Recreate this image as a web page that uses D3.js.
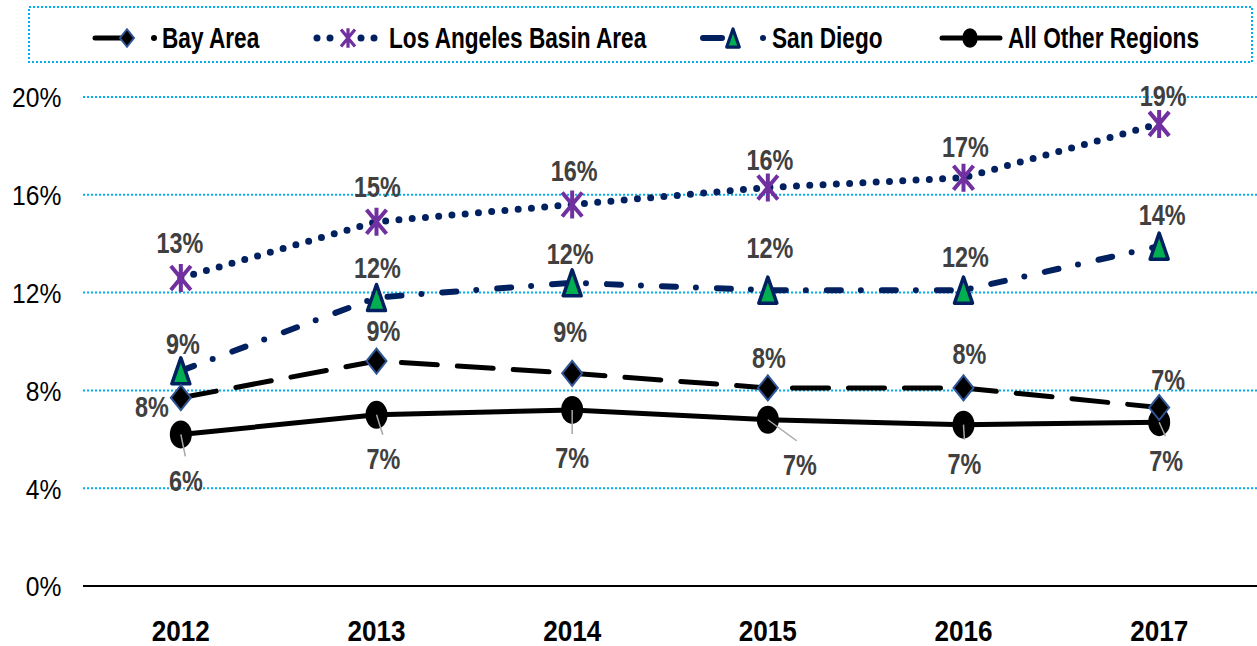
<!DOCTYPE html>
<html>
<head>
<meta charset="utf-8">
<script src="https://cdn.jsdelivr.net/npm/d3@7"></script>
<style>
  body { margin: 0; background: #fff; }
  svg { display: block; }
  text { font-family: "Liberation Sans", Arial, sans-serif; }
</style>
</head>
<body>
<svg id="chart" width="1257" height="646"></svg>
<script>
// données (en %)
const years = ['2012', '2013', '2014', '2015', '2016', '2017']
const bayArea = [7.7, 9.2, 8.7, 8.1, 8.1, 7.3]
const laBasin = [12.6, 14.9, 15.6, 16.3, 16.7, 18.9]
const sanDiego = [8.8, 11.8, 12.4, 12.1, 12.1, 13.9]
const otherRegions = [6.2, 7.0, 7.2, 6.8, 6.6, 6.7]
const yTicks = [0, 4, 8, 12, 16, 20]

// décalage des étiquettes par rapport au marqueur
const labelOffsets = {
  bay: [[-29, 9], [7, -31], [-2, -42], [1, -30], [6, -34], [9, -28]],
  la: [[-1, -35], [1, -35], [2, -34], [2, -28], [2, -31], [4, -28]],
  sd: [[2, -27], [1, -30], [-2, -29], [2, -43], [2, -34], [3, -32]],
  other: [[5, 46], [7, 44], [0, 48], [32, 45], [1, 39], [7, 38]]
}

const series = [
  { key: 'bay', name: 'Bay Area', values: bayArea, color: '#000', width: 5, dash: '36 20', marker: 'diamond' },
  { key: 'la', name: 'Los Angeles Basin Area', values: laBasin, color: '#002060', width: 7, dash: '0 13.3', marker: 'star' },
  { key: 'sd', name: 'San Diego', values: sanDiego, color: '#002060', width: 6, dash: '14 20 0 21', marker: 'triangle' },
  { key: 'other', name: 'All Other Regions', values: otherRegions, color: '#000', width: 5, dash: null, marker: 'circle' }
]

const svg = d3.select('#chart')
const margin = { left: 83, right: 0 }
const width = 1257

const x = d3.scaleBand().domain(years).range([margin.left, width - margin.right])
const y = d3.scaleLinear().domain([0, 20]).range([586, 97])
const cx = d => x(d) + x.bandwidth() / 2

//Texte étroit (imite Arial Narrow)
function narrowText (parent, px, py, str, size, sx, opts) {
  const g = parent.append('g').attr('transform', 'translate(' + px + ',' + py + ')')
  const t = g.append('text')
    .attr('transform', 'scale(' + sx + ',1)')
    .attr('dy', '0.35em')
    .attr('font-size', size)
    .attr('font-weight', opts.weight || 'bold')
    .attr('fill', opts.fill || '#000')
    .attr('text-anchor', opts.anchor || 'start')
    .text(str)
  return t
}

// Grille
svg.append('g').attr('class', 'grid')
  .selectAll('line')
  .data(yTicks.filter(t => t > 0))
  .join('line')
  .attr('x1', margin.left).attr('x2', width)
  .attr('y1', d => y(d)).attr('y2', d => y(d))
  .attr('stroke', '#00B0F0').attr('stroke-width', 2).attr('stroke-dasharray', '2 2')

// Axe Y
const yAxis = svg.append('g')
  .attr('transform', 'translate(' + (margin.left - 19) + ',0)')
  .call(d3.axisLeft(y).tickValues(yTicks).tickSize(0).tickFormat(d => d + '%'))
yAxis.select('.domain').remove()
yAxis.selectAll('text').attr('font-size', 28).attr('fill', '#000').attr('dy', '0.35em')
  .attr('transform', 'scale(0.88,1)')

// ligne zéro
svg.append('line')
  .attr('x1', margin.left).attr('x2', width)
  .attr('y1', y(0)).attr('y2', y(0))
  .attr('stroke', '#000').attr('stroke-width', 2)

// Axe X
const xAxis = svg.append('g')
  .attr('transform', 'translate(0,' + (y(0) + 44) + ')')
  .call(d3.axisBottom(x).tickSize(0).tickPadding(0))
xAxis.select('.domain').remove()
xAxis.selectAll('text').attr('font-size', 30).attr('font-weight', 'bold').attr('fill', '#000')
  .attr('dy', '0.35em').attr('transform', 'scale(0.87,1)')

// Marqueurs
function drawMarker (g, type, k) {
  if (type === 'diamond') {
    const w = 10 * k, h = 12.5 * k
    g.append('path').attr('d', 'M0,' + (-h) + 'L' + w + ',0L0,' + h + 'L' + (-w) + ',0Z')
      .attr('fill', '#000').attr('stroke', '#2F5597').attr('stroke-width', 2)
  } else if (type === 'star') {
    const w = 10 * k, h = 12 * k
    g.append('path')
      .attr('d', 'M' + (-w) + ',' + (-h) + 'L' + w + ',' + h + 'M' + w + ',' + (-h) + 'L' + (-w) + ',' + h + 'M0,' + (-h - 2 * k) + 'L0,' + (h + 2 * k))
      .attr('stroke', '#7030A0').attr('stroke-width', 4 * Math.min(1, k + 0.1)).attr('fill', 'none')
  } else if (type === 'triangle') {
    const w = 9 * k, h = 13 * k
    g.append('path').attr('d', 'M0,' + (-h) + 'L' + w + ',' + h + 'L' + (-w) + ',' + h + 'Z')
      .attr('fill', '#00B050').attr('stroke', '#002060').attr('stroke-width', 3.5 * Math.min(1, k + 0.2)).attr('stroke-linejoin', 'round')
  } else {
    g.append('ellipse').attr('rx', 11 * k).attr('ry', 14 * k).attr('fill', '#000')
  }
}

const plot = svg.append('g').attr('class', 'plot')
const line = d3.line().x((d, i) => cx(years[i])).y(d => y(d))
series.slice().reverse().forEach(s => {
  plot.append('path')
    .datum(s.values)
    .attr('d', line)
    .attr('fill', 'none')
    .attr('stroke', s.color)
    .attr('stroke-width', s.width)
    .attr('stroke-linecap', 'round')
    .attr('stroke-dasharray', s.dash)
})

series.slice().reverse().forEach(s => {
  s.values.forEach((v, i) => {
    const g = plot.append('g').attr('transform', 'translate(' + cx(years[i]) + ',' + y(v) + ')')
    drawMarker(g, s.marker, 1)
  })
})

// Étiquettes
const fmt = d3.format('.0f')
series.forEach(s => {
  s.values.forEach((v, i) => {
    const [dx, dy] = labelOffsets[s.key][i]
    const px = cx(years[i])
    const py = y(v)
    if (s.key === 'other') {
      plot.append('line')
        .attr('x1', px).attr('y1', py)
        .attr('x2', px + dx * 0.9).attr('y2', py + dy - 24)
        .attr('stroke', '#A6A6A6').attr('stroke-width', 1.5)
    }
    narrowText(plot, px + dx, py + dy, fmt(v) + '%', 30, 0.78, { fill: '#404040', anchor: 'middle' })
  })
})

// Légende
const legend = svg.append('g').attr('class', 'legend')
legend.append('rect')
  .attr('x', 29).attr('y', 7).attr('width', 1223).attr('height', 55)
  .attr('fill', '#fff').attr('stroke', '#00B0F0').attr('stroke-width', 2).attr('stroke-dasharray', '2 2')

const legendX = [95, 317, 703, 942]
const legendText = [67, 72, 69, 66]
const legendMarker = [32, 31, 30, 28]
series.forEach((s, i) => {
  const g = legend.append('g').attr('transform', 'translate(' + legendX[i] + ',38)')
  if (s.key === 'bay') {
    g.append('line').attr('x1', 0).attr('x2', 27).attr('stroke', s.color).attr('stroke-width', s.width).attr('stroke-linecap', 'round')
    g.append('circle').attr('cx', 59).attr('r', 3).attr('fill', s.color)
  } else if (s.key === 'la') {
    g.selectAll('circle').data([0, 13, 44, 57]).join('circle')
      .attr('cx', d => d).attr('r', 3.5).attr('fill', s.color)
  } else if (s.key === 'sd') {
    g.append('line').attr('x1', 0).attr('x2', 19).attr('stroke', s.color).attr('stroke-width', s.width).attr('stroke-linecap', 'round')
    g.append('circle').attr('cx', 60).attr('r', 3).attr('fill', s.color)
  } else {
    g.append('line').attr('x1', 0).attr('x2', 58).attr('stroke', s.color).attr('stroke-width', s.width).attr('stroke-linecap', 'round')
  }
  const m = g.append('g').attr('transform', 'translate(' + legendMarker[i] + ',0)')
  drawMarker(m, s.marker, 0.7)
  narrowText(g, legendText[i], 0, s.name, 29, 0.78, {})
})
</script>
</body>
</html>
